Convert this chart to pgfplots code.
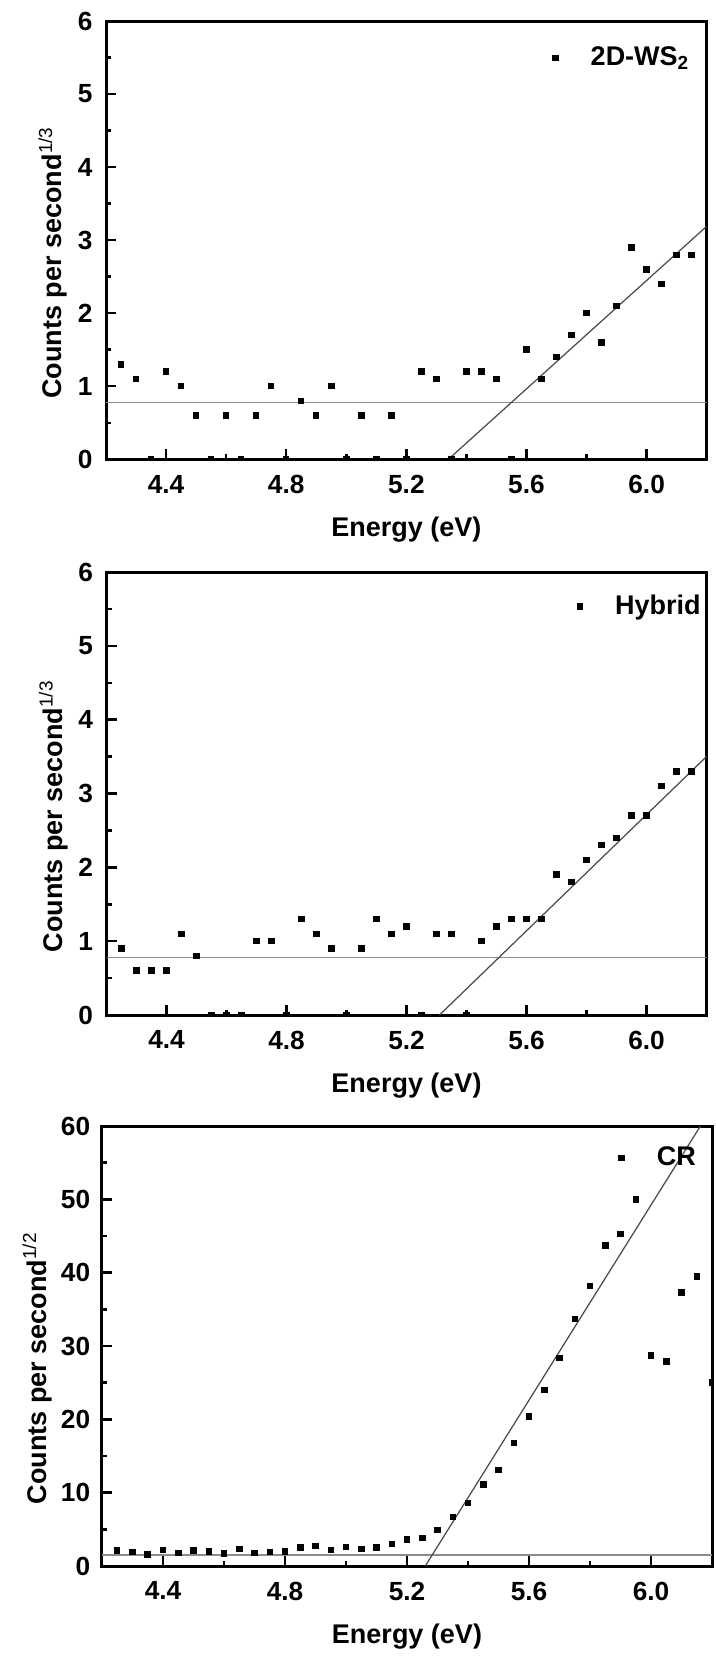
\documentclass[border=0pt]{standalone}
\usepackage{fontspec}
\setmainfont{Liberation Sans}
\usepackage{pgfplots}
\usepackage{pgfplotstable}
\pgfplotsset{compat=1.18}

\pgfplotstableread{
x y
4.25 1.3
4.30 1.1
4.35 0
4.40 1.2
4.45 1.0
4.50 0.6
4.55 0
4.60 0.6
4.65 0
4.70 0.6
4.75 1.0
4.80 0
4.85 0.8
4.90 0.6
4.95 1.0
5.00 0
5.05 0.6
5.10 0
5.15 0.6
5.20 0
5.25 1.2
5.30 1.1
5.35 0
5.40 1.2
5.45 1.2
5.50 1.1
5.55 0
5.60 1.5
5.65 1.1
5.70 1.4
5.75 1.7
5.80 2.0
5.85 1.6
5.90 2.1
5.95 2.9
6.00 2.6
6.05 2.4
6.10 2.8
6.15 2.8
}\wsdata

\pgfplotstableread{
x y
4.25 0.9
4.30 0.6
4.35 0.6
4.40 0.6
4.45 1.1
4.50 0.8
4.55 0
4.60 0
4.65 0
4.70 1.0
4.75 1.0
4.80 0
4.85 1.3
4.90 1.1
4.95 0.9
5.00 0
5.05 0.9
5.10 1.3
5.15 1.1
5.20 1.2
5.25 0
5.30 1.1
5.35 1.1
5.40 0
5.45 1.0
5.50 1.2
5.55 1.3
5.60 1.3
5.65 1.3
5.70 1.9
5.75 1.8
5.80 2.1
5.85 2.3
5.90 2.4
5.95 2.7
6.00 2.7
6.05 3.1
6.10 3.3
6.15 3.3
}\hybdata

\pgfplotstableread{
x y
4.25 2.1
4.30 1.9
4.35 1.6
4.40 2.2
4.45 1.8
4.50 2.1
4.55 2.0
4.60 1.7
4.65 2.3
4.70 1.8
4.75 1.9
4.80 2.0
4.85 2.5
4.90 2.7
4.95 2.2
5.00 2.6
5.05 2.3
5.10 2.5
5.15 3.0
5.20 3.6
5.25 3.8
5.30 4.9
5.35 6.7
5.40 8.6
5.45 11.1
5.50 13.1
5.55 16.8
5.60 20.4
5.65 24.0
5.70 28.4
5.75 33.7
5.80 38.2
5.85 43.7
5.90 45.3
5.95 50.0
6.00 28.7
6.05 27.9
6.10 37.3
6.15 39.5
6.20 25.0
}\crdata

\pgfplotsset{
  myaxis/.style={
    scale only axis, anchor=south west,
    xmin=4.2, xmax=6.2,
    xtick={4.4,4.8,5.2,5.6,6.0},
    minor xtick={4.6,5.0,5.4,5.8},
    tick pos=left, tick align=inside,
    major tick length=4pt, minor tick length=2pt,
    every tick/.style={black, line width=1pt},
    axis line style={line width=1.2pt},
    tick label style={font=\bfseries\fontsize{10.5}{12}\selectfont},
    /pgf/number format/assume math mode=true,
    xticklabel style={/pgf/number format/.cd, fixed, fixed zerofill, precision=1, /tikz/.cd, yshift=-2.8pt},
    yticklabel style={xshift=-1.9pt},
    label style={font=\bfseries\fontsize{10.8}{13}\selectfont},
    xlabel={Energy (eV)},
    xlabel style={at={(axis description cs:0.5,0)}, anchor=base, yshift=-31pt},
    ylabel style={at={(axis description cs:-0.0733,0.449)}, anchor=base, rotate=0},
    clip marker paths=true,
    legend style={draw=none, fill=none, anchor=east,
      font=\bfseries\fontsize{10.8}{13}\selectfont,
      /tikz/every odd column/.append style={column sep=11pt}},
  },
  dots/.style={only marks, mark=square*, mark size=1.1pt, black},
  fitline/.style={black!70, line width=0.5pt, forget plot},
  baseline/.style={black!45, line width=0.6pt, forget plot},
}

\begin{document}
\begin{tikzpicture}
\useasboundingbox (0pt,0pt) rectangle (286pt,-665.2pt);

% Panel 1
\begin{axis}[myaxis,
  at={(42.4pt,-183.72pt)}, width=240.28pt, height=175.32pt,
  ymin=0, ymax=6, ytick={0,1,2,3,4,5,6}, minor ytick={0.5,1.5,2.5,3.5,4.5,5.5},
  ylabel={Counts per second\textsuperscript{\mdseries 1/3}},
  legend style={at={(axis description cs:0.993,0.916)}},
]
\addplot[baseline] coordinates {(4.2,0.78) (6.2,0.78)};
\addplot[fitline] coordinates {(5.34,0) (6.2,3.19)};
\addplot[dots] table[x=x,y=y] {\wsdata};
\addlegendentry{2D-WS\textsubscript{2}}
\end{axis}

% Panel 2
\begin{axis}[myaxis,
  at={(42.6pt,-406pt)}, width=240pt, height=177.2pt,
  ymin=0, ymax=6, ytick={0,1,2,3,4,5,6}, minor ytick={0.5,1.5,2.5,3.5,4.5,5.5},
  ylabel={Counts per second\textsuperscript{\mdseries 1/3}},
  legend style={at={(axis description cs:1.012,0.922)}},
]
\addplot[baseline] coordinates {(4.2,0.78) (6.2,0.78)};
\addplot[fitline] coordinates {(5.31,0) (6.2,3.5)};
\addplot[dots] table[x=x,y=y] {\hybdata};
\addlegendentry{Hybrid}
\end{axis}

% Panel 3
\begin{axis}[myaxis,
  at={(40.8pt,-626.4pt)}, width=244pt, height=176pt,
  ymin=0, ymax=60, ytick={0,10,20,30,40,50,60}, minor ytick={5,15,25,35,45,55},
  yticklabel style={xshift=0.7pt},
  ylabel={Counts per second\textsuperscript{\mdseries 1/2}},
  ylabel style={at={(axis description cs:-0.0918,0.45)}},
  legend style={at={(axis description cs:0.995,0.927)}},
]
\addplot[baseline] coordinates {(4.2,1.5) (6.2,1.5)};
\addplot[fitline] coordinates {(5.26,0) (6.162,60)};
\addplot[dots] table[x=x,y=y] {\crdata};
\addlegendentry{CR}
\end{axis}
\end{tikzpicture}
\end{document}
